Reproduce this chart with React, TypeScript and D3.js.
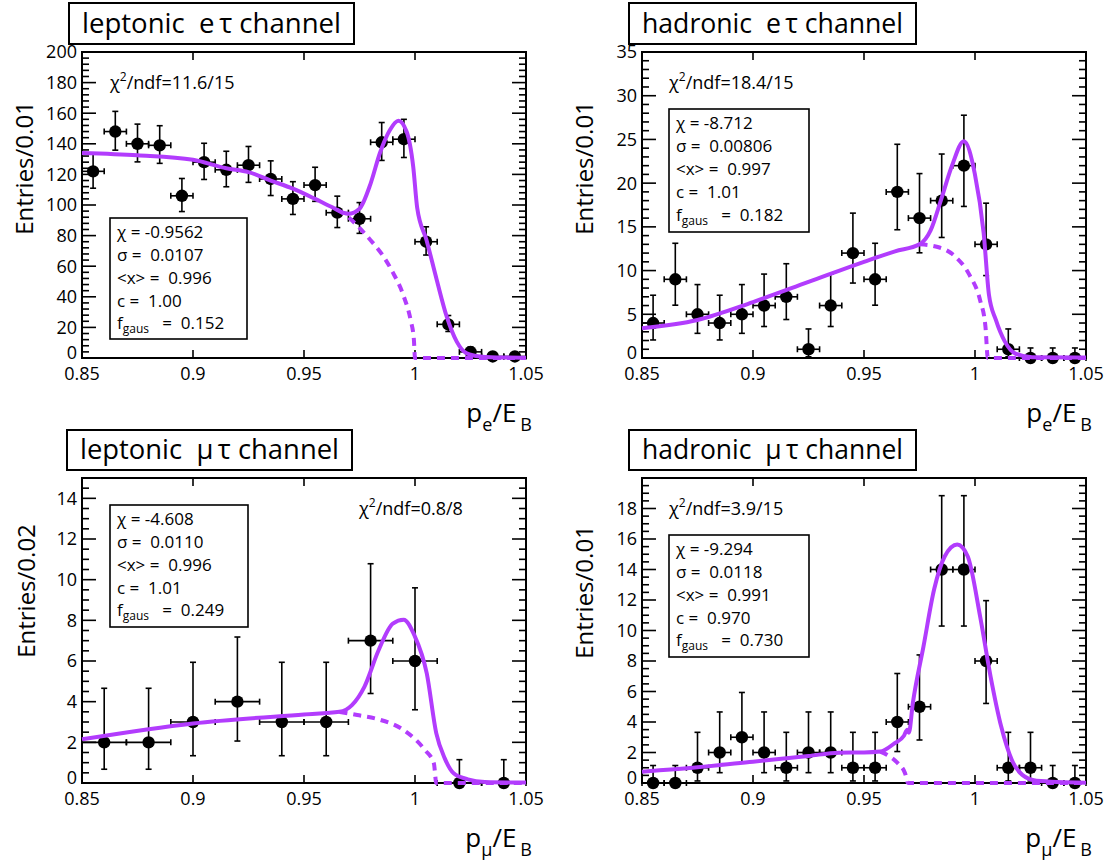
import React from "react";
import * as d3 from "d3";

const FONT = "'Open Sans', 'DejaVu Sans', sans-serif";
const PURPLE = "#b23cfd";

// ---------- data ----------
const xTickValues = [0.85, 0.9, 0.95, 1, 1.05];
const xTickLabels = ["0.85", "0.9", "0.95", "1", "1.05"];

const fineBins = [0.855, 0.865, 0.875, 0.885, 0.895, 0.905, 0.915, 0.925, 0.935, 0.945,
  0.955, 0.965, 0.975, 0.985, 0.995, 1.005, 1.015, 1.025, 1.035, 1.045];
const coarseBins = [0.86, 0.88, 0.9, 0.92, 0.94, 0.96, 0.98, 1.0, 1.02, 1.04];

const lepEtauCounts = [122, 148, 140, 139, 106, 128, 123, 126, 117, 104, 113, 95, 91, 141, 143, 76, 22, 4, 1, 1];
const hadEtauCounts = [4, 9, 5, 4, 5, 6, 7, 1, 6, 12, 9, 19, 16, 18, 22, 13, 1, 0, 0, 0];
const lepMutauCounts = [2, 2, 3, 4, 3, 3, 7, 6, 0, 0];
const hadMutauCounts = [0, 0, 1, 2, 3, 2, 1, 2, 2, 1, 1, 4, 5, 14, 14, 8, 1, 1, 0, 0];

// fit curves (x, y)
const lepEtauTotalX = [0.85, 0.875, 0.9, 0.915, 0.925, 0.935, 0.945, 0.955, 0.962, 0.97, 0.975, 0.98, 0.9842, 0.9887, 0.9925, 0.9962, 0.9992, 1.001, 1.0052, 1.0098, 1.0143, 1.0188, 1.0233, 1.0293, 1.04, 1.05];
const lepEtauTotalY = [134, 132.5, 129.6, 124, 121.5, 116, 110.7, 104, 99, 94.3, 97.6, 114, 134, 149, 155, 148, 125, 98, 77, 51, 27, 10.7, 3, 1, 0.3, 0.2];
const lepEtauBkgX = [0.965, 0.97, 0.975, 0.98, 0.985, 0.99, 0.995, 0.998, 0.9995, 1.0, 1.05];
const lepEtauBkgY = [97, 92, 85, 77, 68, 56, 40, 25, 12, 0, 0];

const hadEtauTotalX = [0.85, 0.875, 0.9, 0.925, 0.95, 0.964, 0.975, 0.98, 0.9847, 0.9895, 0.995, 0.9999, 1.0039, 1.0063, 1.0094, 1.0134, 1.0182, 1.0257, 1.05];
const hadEtauTotalY = [3.4, 4.35, 6.4, 8.7, 11.0, 12.2, 13.0, 14.6, 18.1, 21.9, 24.8, 21.1, 14.3, 7.2, 4.35, 1.9, 0.5, 0.1, 0.05];
const hadEtauBkgX = [0.975, 0.9832, 0.9911, 0.9975, 1.0023, 1.0047, 1.0058, 1.05];
const hadEtauBkgY = [13.0, 12.7, 11.6, 9.5, 6.6, 3.6, 0, 0];

const lepMutauTotalX = [0.85, 0.9, 0.95, 0.966, 0.9716, 0.9772, 0.9836, 0.99, 0.9949, 0.9997, 1.0053, 1.0096, 1.0134, 1.0174, 1.0238, 1.0315, 1.05];
const lepMutauTotalY = [2.15, 2.93, 3.37, 3.5, 3.83, 4.73, 6.53, 7.84, 8.03, 7.27, 5.39, 2.44, 1.21, 0.48, 0.18, 0.05, 0.02];
const lepMutauBkgX = [0.966, 0.974, 0.9836, 0.9949, 1.0045, 1.0085, 1.0096, 1.05];
const lepMutauBkgY = [3.5, 3.34, 3.13, 2.6, 1.62, 0.97, 0, 0];

const hadMutauTotalX = [0.85, 0.875, 0.9, 0.925, 0.9386, 0.95, 0.9573, 0.9637, 0.968, 0.9695, 0.9702, 0.972, 0.9768, 0.9816, 0.9864, 0.992, 0.9967, 1.0023, 1.007, 1.0118, 1.0166, 1.0213, 1.0277, 1.05];
const hadMutauTotalY = [0.74, 1.03, 1.4, 1.77, 1.99, 2.0, 2.06, 2.6, 3.1, 3.5, 3.3, 5.24, 8.96, 12.7, 14.87, 15.64, 14.87, 10.93, 7.0, 3.7, 1.51, 0.53, 0.15, 0.02];
const hadMutauBkgX = [0.9573, 0.9605, 0.9652, 0.9685, 0.9698, 1.05];
const hadMutauBkgY = [2.06, 1.84, 1.3, 0.64, 0, 0];

const lepEtauStats = ["-0.9562", "0.0107", "0.996", "1.00", "0.152"];
const hadEtauStats = ["-8.712", "0.00806", "0.997", "1.01", "0.182"];
const lepMutauStats = ["-4.608", "0.0110", "0.996", "1.01", "0.249"];
const hadMutauStats = ["-9.294", "0.0118", "0.991", "0.970", "0.730"];

const chiNdf = ["11.6/15", "18.4/15", "0.8/8", "3.9/15"];

// ---------- helpers ----------
function poissonLo(n: number) { return n === 0 ? 0 : n - Math.sqrt(n - 0.25); }
function poissonHi(n: number) { return n === 0 ? 1.147 : n + Math.sqrt(n + 0.75) + 1; }

type Box = { x0: number; x1: number; y0: number; y1: number };

interface PanelCfg {
  frame: Box;
  yMax: number; yMajor: number; yMinor: number; yLabelMax: number;
  bins: number[]; counts: number[]; half: number;
  totX: number[]; totY: number[]; bkgX: number[]; bkgY: number[];
  title: [string, string]; titleBox: Box; titleBase: number;
  yTitle: string; yTitleX: number; yTitleY: number;
  xSub: string;
  chi: string; chiX: number; chiY: number;
  statsBox: Box; stats: string[]; statBase: number[];
}

const panels: PanelCfg[] = [
  {
    frame: { x0: 82, x1: 526, y0: 52, y1: 358 }, yMax: 200, yMajor: 20, yMinor: 4, yLabelMax: 200,
    bins: fineBins, counts: lepEtauCounts, half: 0.005,
    totX: lepEtauTotalX, totY: lepEtauTotalY, bkgX: lepEtauBkgX, bkgY: lepEtauBkgY,
    title: ["leptonic", "e"], titleBox: { x0: 69, x1: 354, y0: 3, y1: 44 }, titleBase: 33,
    yTitle: "Entries/0.01", yTitleX: 33, yTitleY: 168,
    xSub: "e", chi: chiNdf[0], chiX: 110, chiY: 89,
    statsBox: { x0: 110, x1: 247, y0: 218, y1: 339 }, stats: lepEtauStats, statBase: [238, 261, 284, 307, 329],
  },
  {
    frame: { x0: 642, x1: 1086, y0: 52, y1: 358 }, yMax: 35, yMajor: 5, yMinor: 1, yLabelMax: 35,
    bins: fineBins, counts: hadEtauCounts, half: 0.005,
    totX: hadEtauTotalX, totY: hadEtauTotalY, bkgX: hadEtauBkgX, bkgY: hadEtauBkgY,
    title: ["hadronic", "e"], titleBox: { x0: 629, x1: 916, y0: 3, y1: 44 }, titleBase: 33,
    yTitle: "Entries/0.01", yTitleX: 593, yTitleY: 168,
    xSub: "e", chi: chiNdf[1], chiX: 669, chiY: 89,
    statsBox: { x0: 669, x1: 809, y0: 109, y1: 232 }, stats: hadEtauStats, statBase: [129, 152, 175, 198, 221],
  },
  {
    frame: { x0: 82, x1: 526, y0: 478, y1: 783 }, yMax: 15, yMajor: 2, yMinor: 0.5, yLabelMax: 14,
    bins: coarseBins, counts: lepMutauCounts, half: 0.01,
    totX: lepMutauTotalX, totY: lepMutauTotalY, bkgX: lepMutauBkgX, bkgY: lepMutauBkgY,
    title: ["leptonic", "\u03bc"], titleBox: { x0: 67, x1: 352, y0: 430, y1: 470 }, titleBase: 459,
    yTitle: "Entries/0.02", yTitleX: 35, yTitleY: 591,
    xSub: "\u03bc", chi: chiNdf[2], chiX: 359, chiY: 515,
    statsBox: { x0: 110, x1: 248, y0: 505, y1: 627 }, stats: lepMutauStats, statBase: [525, 548, 571, 594, 616],
  },
  {
    frame: { x0: 642, x1: 1086, y0: 478, y1: 783 }, yMax: 20, yMajor: 2, yMinor: 0.5, yLabelMax: 18,
    bins: fineBins, counts: hadMutauCounts, half: 0.005,
    totX: hadMutauTotalX, totY: hadMutauTotalY, bkgX: hadMutauBkgX, bkgY: hadMutauBkgY,
    title: ["hadronic", "\u03bc"], titleBox: { x0: 629, x1: 916, y0: 430, y1: 470 }, titleBase: 459,
    yTitle: "Entries/0.01", yTitleX: 593, yTitleY: 592,
    xSub: "\u03bc", chi: chiNdf[3], chiX: 669, chiY: 515,
    statsBox: { x0: 669, x1: 809, y0: 535, y1: 657 }, stats: hadMutauStats, statBase: [555, 578, 601, 624, 646],
  },
];

function Panel({ p }: { p: PanelCfg }) {
  const { frame } = p;
  const x = d3.scaleLinear().domain([0.85, 1.05]).range([frame.x0, frame.x1]);
  const y = d3.scaleLinear().domain([0, p.yMax]).range([frame.y1, frame.y0]);
  const line = d3.line<[number, number]>().x(d => x(d[0])).y(d => y(d[1])).curve(d3.curveMonotoneX);
  const tot = line(p.totX.map((v, i) => [v, p.totY[i]] as [number, number])) || "";
  const bkg = line(p.bkgX.map((v, i) => [v, p.bkgY[i]] as [number, number])) || "";

  const nMinor = Math.round(p.yMax / p.yMinor);
  const minorTicks = d3.range(0, nMinor + 1).map(i => i * p.yMinor);
  const majorTicks = d3.range(0, Math.round(p.yLabelMax / p.yMajor) + 1).map(i => i * p.yMajor);
  const isMajor = (v: number) => Math.abs(v / p.yMajor - Math.round(v / p.yMajor)) < 1e-6;

  const cap = 3;
  const labels = ["\u03c7 = ", "\u03c3 =  ", "<x> =  ", "c =  "];
  const tbw = p.titleBox.x1 - p.titleBox.x0;

  return (
    <g fontFamily={FONT}>
      {/* title box */}
      <rect x={p.titleBox.x0} y={p.titleBox.y0} width={tbw} height={p.titleBox.y1 - p.titleBox.y0}
        fill="white" stroke="black" strokeWidth={2} />
      <text x={p.titleBox.x0 + 13} y={p.titleBase} fontSize={28}
        textLength={tbw - 26} lengthAdjust="spacingAndGlyphs" style={{ whiteSpace: "pre" }}>
        {p.title[0] + "  " + p.title[1] + "\u2009\u03c4 channel"}
      </text>

      {/* frame */}
      <rect x={frame.x0} y={frame.y0} width={frame.x1 - frame.x0} height={frame.y1 - frame.y0}
        fill="none" stroke="black" strokeWidth={2} />
      {/* y ticks */}
      {minorTicks.map((v, i) => {
        const len = isMajor(v) ? 14 : 7;
        return (
          <g key={"yt" + i} stroke="black" strokeWidth={1.6}>
            <line x1={frame.x0} x2={frame.x0 + len} y1={y(v)} y2={y(v)} />
            <line x1={frame.x1} x2={frame.x1 - len} y1={y(v)} y2={y(v)} />
          </g>
        );
      })}
      {majorTicks.map((v, i) => (
        <text key={"yl" + i} x={frame.x0 - 5} y={y(v) - (v === 0 ? 5 : 0)} dy="0.36em" textAnchor="end" fontSize={18}>{String(v)}</text>
      ))}
      {/* x ticks */}
      {xTickValues.map((v, i) => (
        <g key={"xt" + i}>
          <line x1={x(v)} x2={x(v)} y1={frame.y1} y2={frame.y1 - 8} stroke="black" strokeWidth={1.6} />
          <line x1={x(v)} x2={x(v)} y1={frame.y0} y2={frame.y0 + 8} stroke="black" strokeWidth={1.6} />
          <text x={x(v)} y={frame.y1 + 22} textAnchor="middle" fontSize={18}>{xTickLabels[i]}</text>
        </g>
      ))}

      {/* axis titles */}
      <text transform={`translate(${p.yTitleX},${p.yTitleY}) rotate(-90)`} textAnchor="middle" fontSize={24}>{p.yTitle}</text>
      <text x={frame.x1 + 6} y={frame.y1 + 64} textAnchor="end" fontSize={26}>
        <tspan>p</tspan>
        <tspan fontSize={18} dy={9}>{p.xSub}</tspan>
        <tspan dy={-9}>/E</tspan>
        <tspan fontSize={18} dy={9} dx={4}>B</tspan>
      </text>

      {/* data points */}
      {p.bins.map((b, i) => {
        const n = p.counts[i];
        const cx = x(b), cy = y(n);
        const xl = x(b - p.half), xr = x(b + p.half);
        const yl = y(poissonLo(n)), yh = y(poissonHi(n));
        return (
          <g key={"pt" + i} stroke="black" strokeWidth={1.6}>
            <line x1={xl} x2={xr} y1={cy} y2={cy} />
            <line x1={xl} x2={xl} y1={cy - cap} y2={cy + cap} />
            <line x1={xr} x2={xr} y1={cy - cap} y2={cy + cap} />
            <line x1={cx} x2={cx} y1={yl} y2={yh} />
            <line x1={cx - cap} x2={cx + cap} y1={yh} y2={yh} />
            {n > 0 && <line x1={cx - cap} x2={cx + cap} y1={yl} y2={yl} />}
            <circle cx={cx} cy={cy} r={6.2} fill="black" stroke="none" />
          </g>
        );
      })}

      {/* fit curves */}
      <path d={bkg} fill="none" stroke={PURPLE} strokeWidth={4} strokeDasharray="8 6" />
      <path d={tot} fill="none" stroke={PURPLE} strokeWidth={4} strokeLinejoin="round" />

      {/* chi2 */}
      <text x={p.chiX} y={p.chiY} fontSize={18}>
        <tspan>{"\u03c7"}</tspan>
        <tspan fontSize={12} dy={-8}>2</tspan>
        <tspan dy={8}>{"/ndf=" + p.chi}</tspan>
      </text>

      {/* stats box */}
      <rect x={p.statsBox.x0} y={p.statsBox.y0} width={p.statsBox.x1 - p.statsBox.x0} height={p.statsBox.y1 - p.statsBox.y0}
        fill="white" stroke="black" strokeWidth={1.6} />
      {labels.map((lab, i) => (
        <text key={"st" + i} x={p.statsBox.x0 + 7} y={p.statBase[i]} fontSize={17} style={{ whiteSpace: "pre" }}>
          {lab + p.stats[i]}
        </text>
      ))}
      <text x={p.statsBox.x0 + 7} y={p.statBase[4]} fontSize={17} style={{ whiteSpace: "pre" }}>
        <tspan>f</tspan>
        <tspan fontSize={12} dy={4}>gaus</tspan>
        <tspan dy={-4}>{"   =  " + p.stats[4]}</tspan>
      </text>
    </g>
  );
}

export default function App() {
  return (
    <svg width={1112} height={867} viewBox="0 0 1112 867" style={{ display: "block", position: "absolute", left: 0, top: 0, background: "white" }}>
      <rect x={0} y={0} width={1112} height={867} fill="white" />
      {panels.map((p, i) => <Panel key={i} p={p} />)}
    </svg>
  );
}
